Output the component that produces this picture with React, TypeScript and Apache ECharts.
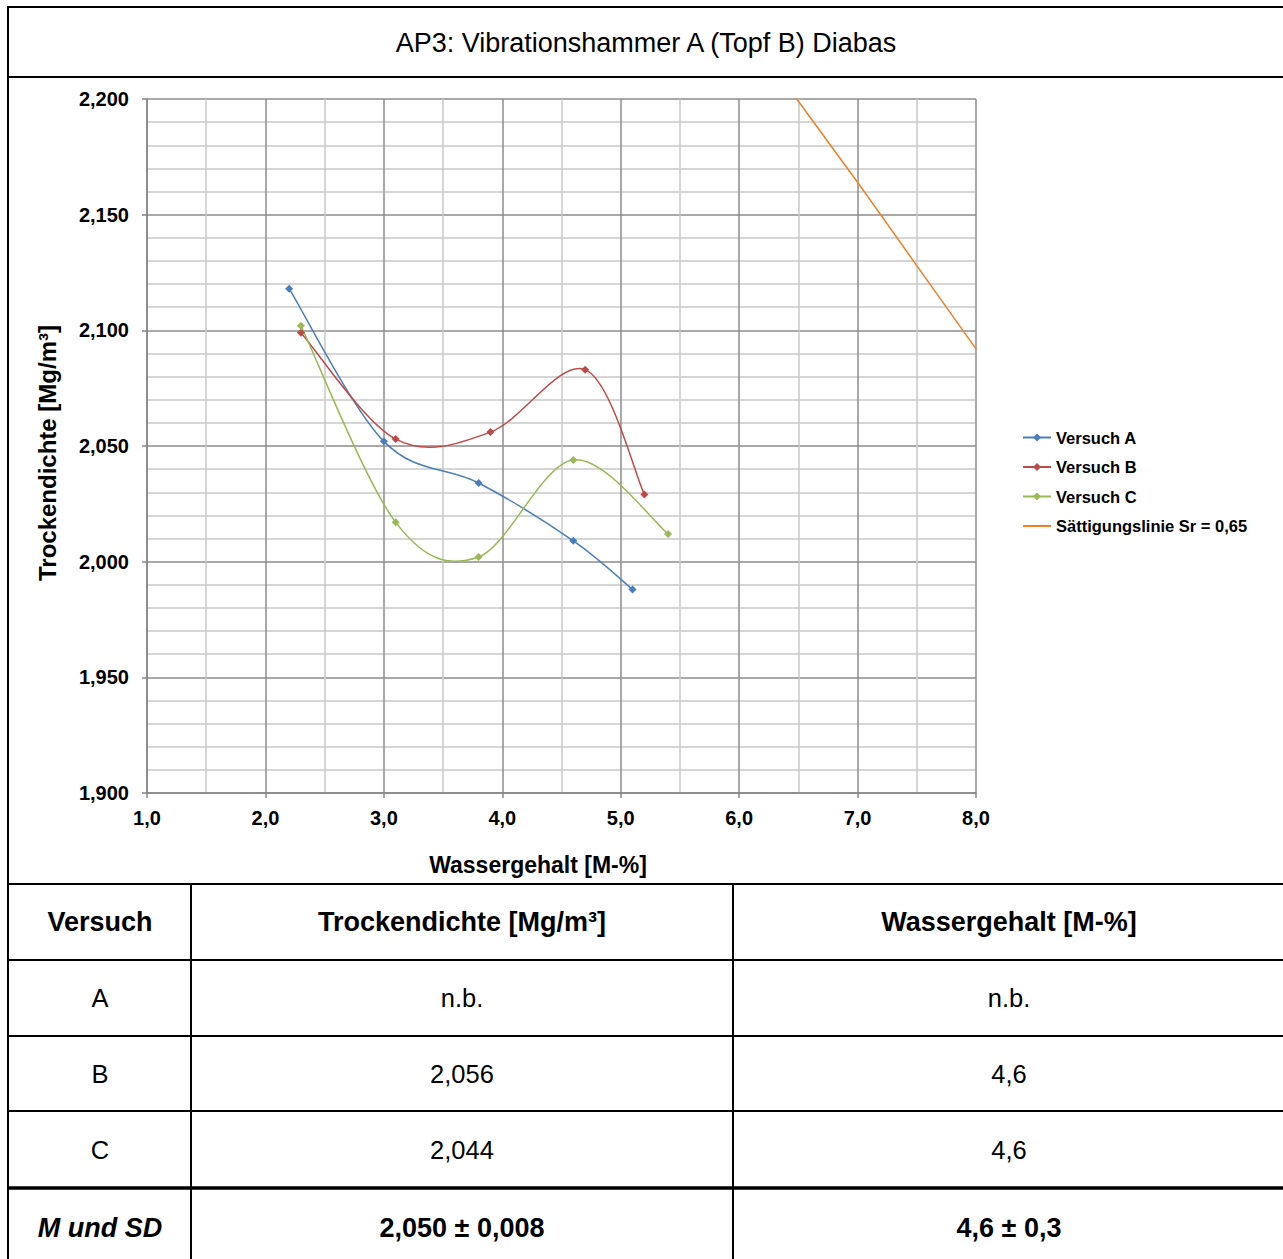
import React, { useEffect, useRef } from "react";
import * as echarts from "echarts";

const FONT = "'Liberation Sans', Arial, Helvetica, sans-serif";

const chartTitle = "AP3: Vibrationshammer A (Topf B) Diabas";
const xAxisTitle = "Wassergehalt [M-%]";
const yAxisTitle = "Trockendichte [Mg/m³]";

const seriesNames = ["Versuch A", "Versuch B", "Versuch C", "Sättigungslinie Sr = 0,65"];
const seriesColors = ["#4A7EBB", "#BE4B48", "#98B954", "#F07F26"];

const versuchA_w = [2.2, 3.0, 3.8, 4.6, 5.1];
const versuchA_rho = [2.118, 2.052, 2.034, 2.009, 1.988];
const versuchB_w = [2.3, 3.1, 3.9, 4.7, 5.2];
const versuchB_rho = [2.099, 2.053, 2.056, 2.083, 2.029];
const versuchC_w = [2.3, 3.1, 3.8, 4.6, 5.4];
const versuchC_rho = [2.102, 2.017, 2.002, 2.044, 2.012];
const saett_w = [6.0, 6.5, 7.0, 7.5, 8.0];
const saett_rho = [2.237, 2.199, 2.164, 2.128, 2.092];

const tableHeader = ["Versuch", "Trockendichte [Mg/m³]", "Wassergehalt [M-%]"];
const tableVersuch = ["A", "B", "C"];
const tableDichte = ["n.b.", "2,056", "2,044"];
const tableWasser = ["n.b.", "4,6", "4,6"];
const summaryRow = ["M und SD", "2,050 ± 0,008", "4,6 ± 0,3"];

const zip = (xs: number[], ys: number[]) => xs.map((x, i) => [x, ys[i]]);

// Excel-like smoothed curve (Catmull-Rom style Bezier) drawn through the axes' scales
const makeSmoothRender = (pts: number[][], color: string) => (params: any, api: any) => {
  if (params.dataIndex !== 0) return null;
  const p = pts.map((d) => api.coord(d));
  const n = p.length;
  const children: any[] = [];
  for (let i = 0; i < n - 1; i++) {
    const p0 = p[Math.max(0, i - 1)];
    const p1 = p[i];
    const p2 = p[i + 1];
    const p3 = p[Math.min(n - 1, i + 2)];
    children.push({
      type: "bezierCurve",
      shape: {
        x1: p1[0],
        y1: p1[1],
        cpx1: p1[0] + (p2[0] - p0[0]) / 6,
        cpy1: p1[1] + (p2[1] - p0[1]) / 6,
        cpx2: p2[0] - (p3[0] - p1[0]) / 6,
        cpy2: p2[1] - (p3[1] - p1[1]) / 6,
        x2: p2[0],
        y2: p2[1],
      },
      style: { stroke: color, lineWidth: 1.5, fill: null },
      silent: true,
    });
  }
  return { type: "group", children };
};

export default function App() {
  const ref = useRef<HTMLDivElement>(null);

  useEffect(() => {
    if (!ref.current) return;
    const chart = echarts.init(ref.current, null, { renderer: "svg" });

    const colX = [8, 191, 733, 1285];
    const rowY = [884, 960, 1036, 1111, 1188, 1259];
    const colCenter = [100, 462, 1009];

    const graphics: any[] = [];
    const hline = (y: number, w = 2) =>
      graphics.push({ type: "line", silent: true, shape: { x1: 7, y1: y, x2: 1290, y2: y }, style: { stroke: "#000", lineWidth: w } });
    const vline = (x: number, y1: number, y2: number, w = 2) =>
      graphics.push({ type: "line", silent: true, shape: { x1: x, y1, x2: x, y2 }, style: { stroke: "#000", lineWidth: w } });

    hline(7);
    hline(77);
    hline(884);
    hline(960);
    hline(1036);
    hline(1111);
    hline(1188, 3.5);
    vline(8, 6, 1260);
    vline(colX[1], 884, 1260);
    vline(colX[2], 884, 1260);

    const txt = (s: string, x: number, y: number, size: number, weight = "normal", style = "normal", rot = 0) =>
      graphics.push({
        type: "text",
        silent: true,
        x,
        y,
        rotation: rot,
        style: {
          text: s,
          x: 0,
          y: 0,
          fill: "#000",
          font: `${style} ${weight} ${size}px ${FONT}`,
          align: "center",
          verticalAlign: "middle",
        },
      });

    txt(chartTitle, 646, 43, 27);
    txt(xAxisTitle, 538, 865, 23, "bold");
    txt(yAxisTitle, 47, 453, 24, "bold", "normal", Math.PI / 2);

    const rowCenters = rowY.slice(0, 5).map((y, i) => (y + rowY[i + 1]) / 2);
    tableHeader.forEach((h, i) => txt(h, colCenter[i], rowCenters[0], 27, "bold"));
    tableVersuch.forEach((v, r) => {
      txt(v, colCenter[0], rowCenters[r + 1], 25.5);
      txt(tableDichte[r], colCenter[1], rowCenters[r + 1], 25.5);
      txt(tableWasser[r], colCenter[2], rowCenters[r + 1], 25.5);
    });
    txt(summaryRow[0], colCenter[0], 1228, 27, "bold", "italic");
    txt(summaryRow[1], colCenter[1], 1228, 27, "bold");
    txt(summaryRow[2], colCenter[2], 1228, 27, "bold");

    const dataSets = [
      zip(versuchA_w, versuchA_rho),
      zip(versuchB_w, versuchB_rho),
      zip(versuchC_w, versuchC_rho),
    ];

    const series: any[] = [];
    dataSets.forEach((d, i) => {
      series.push({
        name: seriesNames[i] + " Kurve",
        type: "custom",
        data: d,
        encode: { x: 0, y: 1 },
        renderItem: makeSmoothRender(d, seriesColors[i]),
        silent: true,
        z: 2,
        clip: true,
      });
      series.push({
        name: seriesNames[i],
        type: "line",
        data: d,
        symbol: "diamond",
        symbolSize: 8,
        lineStyle: { color: seriesColors[i], width: 1.5, opacity: 0 },
        itemStyle: { color: seriesColors[i] },
        emphasis: { disabled: true },
        z: 3,
      });
    });
    series.push({
      name: seriesNames[3],
      type: "line",
      data: zip(saett_w, saett_rho),
      symbol: "none",
      clip: true,
      lineStyle: { color: seriesColors[3], width: 1.5 },
      itemStyle: { color: seriesColors[3] },
      emphasis: { disabled: true },
    });

    chart.setOption({
      animation: false,
      backgroundColor: "#fff",
      textStyle: { fontFamily: FONT },
      grid: { left: 147, top: 99, width: 829, height: 694, containLabel: false },
      legend: {
        orient: "vertical",
        left: 1017,
        top: 424,
        itemWidth: 28,
        itemHeight: 10,
        itemGap: 12.5,
        textStyle: { fontFamily: FONT, fontWeight: "bold", fontSize: 16.5, color: "#000", lineHeight: 17 },
        data: [
          { name: seriesNames[0], lineStyle: { opacity: 1 } },
          { name: seriesNames[1], lineStyle: { opacity: 1 } },
          { name: seriesNames[2], lineStyle: { opacity: 1 } },
          { name: seriesNames[3], itemStyle: { opacity: 0 } },
        ],
      },
      xAxis: {
        type: "value",
        min: 1,
        max: 8,
        interval: 1,
        axisLine: { show: true, lineStyle: { color: "#868686", width: 1.5 } },
        axisTick: { show: true, length: 5, lineStyle: { color: "#868686", width: 1.5 } },
        axisLabel: {
          margin: 15,
          fontSize: 20,
          fontWeight: "bold",
          color: "#000",
          fontFamily: FONT,
          formatter: (v: number) => v.toFixed(1).replace(".", ","),
        },
        splitLine: { show: true, lineStyle: { color: "#8c8c8c", width: 1.5 } },
        minorTick: { show: false, splitNumber: 2 },
        minorSplitLine: { show: true, lineStyle: { color: "#c8c8c8", width: 1.5 } },
      },
      yAxis: {
        type: "value",
        min: 1.9,
        max: 2.2,
        interval: 0.05,
        axisLine: { show: true, lineStyle: { color: "#868686", width: 1.5 } },
        axisTick: { show: true, length: 5, lineStyle: { color: "#868686", width: 1.5 } },
        axisLabel: {
          margin: 18,
          fontSize: 20,
          fontWeight: "bold",
          color: "#000",
          fontFamily: FONT,
          formatter: (v: number) => v.toFixed(3).replace(".", ","),
        },
        splitLine: { show: true, lineStyle: { color: "#8c8c8c", width: 1.5 } },
        minorTick: { show: false, splitNumber: 5 },
        minorSplitLine: { show: true, lineStyle: { color: "#c8c8c8", width: 1.5 } },
      },
      series,
      graphic: graphics,
    });

    return () => chart.dispose();
  }, []);

  return (
    <div
      ref={ref}
      style={{ position: "absolute", left: 0, top: 0, width: 1283, height: 1259, overflow: "hidden" }}
    />
  );
}
